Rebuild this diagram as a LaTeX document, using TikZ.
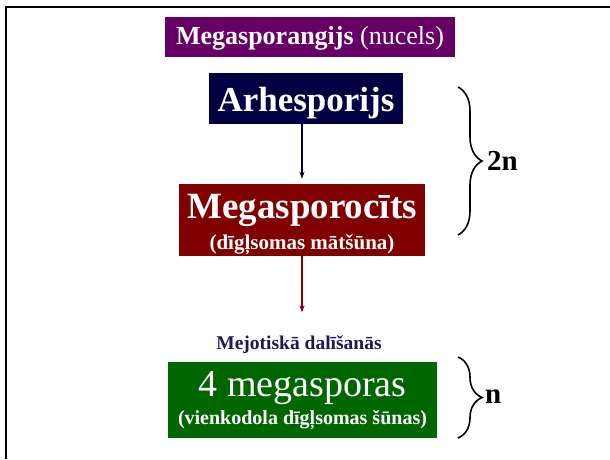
\documentclass[tikz,border=0pt]{standalone}
\usepackage{fontspec}
\setmainfont{Liberation Serif}
\usetikzlibrary{arrows.meta,positioning,decorations.pathreplacing}
\definecolor{nucelpurple}{HTML}{660066}
\definecolor{archnavy}{HTML}{000042}
\definecolor{cytemaroon}{HTML}{800000}
\definecolor{sporegreen}{HTML}{006600}
\definecolor{meiosisblue}{HTML}{1A1A55}
\newcommand{\lift}[1]{\rule{0pt}{#1}}

\begin{document}
\begin{tikzpicture}[
    x=1pt, y=-1pt,
    % --- STYLES ---
    stage/.style={
        rectangle, inner sep=0pt,
        text=white, align=center
    },
    flow/.style={-{Stealth[length=7pt,width=5pt]}, line width=1.2pt},
    ploidy/.style={decorate, decoration={brace, amplitude=24pt}, line width=1.6pt},
    ploidylabel/.style={anchor=west, inner sep=0pt, font=\bfseries\fontsize{29}{30}\selectfont}
]
\useasboundingbox (0,0) rectangle (610,459);

% ===== 1. FRAME =====
\draw[line width=2.2pt] (6,459) -- (6,7) -- (610,7);

% ===== 2. STAGES =====
\node[stage, fill=nucelpurple, minimum width=290pt, minimum height=40pt,
      font=\fontsize{26}{30}\selectfont] (nucel) at (310,36.5)
      {\lift{22pt}\textbf{Megasporangijs} (nucels)};

\node[stage, fill=archnavy, minimum width=194pt, minimum height=51pt,
      font=\bfseries\fontsize{35}{36}\selectfont] (arch) at (306,98.5)
      {\lift{33.6pt}Arhesporijs};

\node[stage, fill=cytemaroon, minimum width=246pt, minimum height=72pt,
      font=\bfseries\fontsize{37}{31}\selectfont] (mcyte) at (302,220)
      {\lift{33.4pt}Megasporocīts\\{\fontsize{21}{24}\selectfont (dīgļsomas mātšūna)}};

\node[font=\bfseries\fontsize{19.5}{20}\selectfont, text=meiosisblue,
      inner sep=0pt] (meiosis) at (299,344.5) {Mejotiskā dalīšanās};

\node[stage, fill=sporegreen, minimum width=269pt, minimum height=76pt,
      font=\fontsize{38}{28}\selectfont] (spores) at (302.5,400)
      {\lift{26.5pt}4 megasporas\\{\bfseries\fontsize{20}{24}\selectfont (vienkodola dīgļsomas šūnas)}};

% ===== 3. ARROWS =====
\draw[flow, archnavy, shorten >=5pt] (mcyte.north |- arch.south) -- (mcyte.north);
\draw[flow, cytemaroon, shorten >=23pt] (mcyte.south) -- (mcyte.south |- meiosis.north);

% ===== 4. PLOIDY BRACES =====
\coordinate (diptop) at (458,87);
\coordinate (dipbot) at (458,235);
\draw[ploidy] (diptop) -- (dipbot);
\node[ploidylabel] (diplabel) at (487,161) {2n};

\coordinate (haptop) at (458,357);
\coordinate (hapbot) at (458,438);
\draw[ploidy] (haptop) -- (hapbot);
\node[ploidylabel] (haplabel) at (485,397) {n};

\end{tikzpicture}
\end{document}
